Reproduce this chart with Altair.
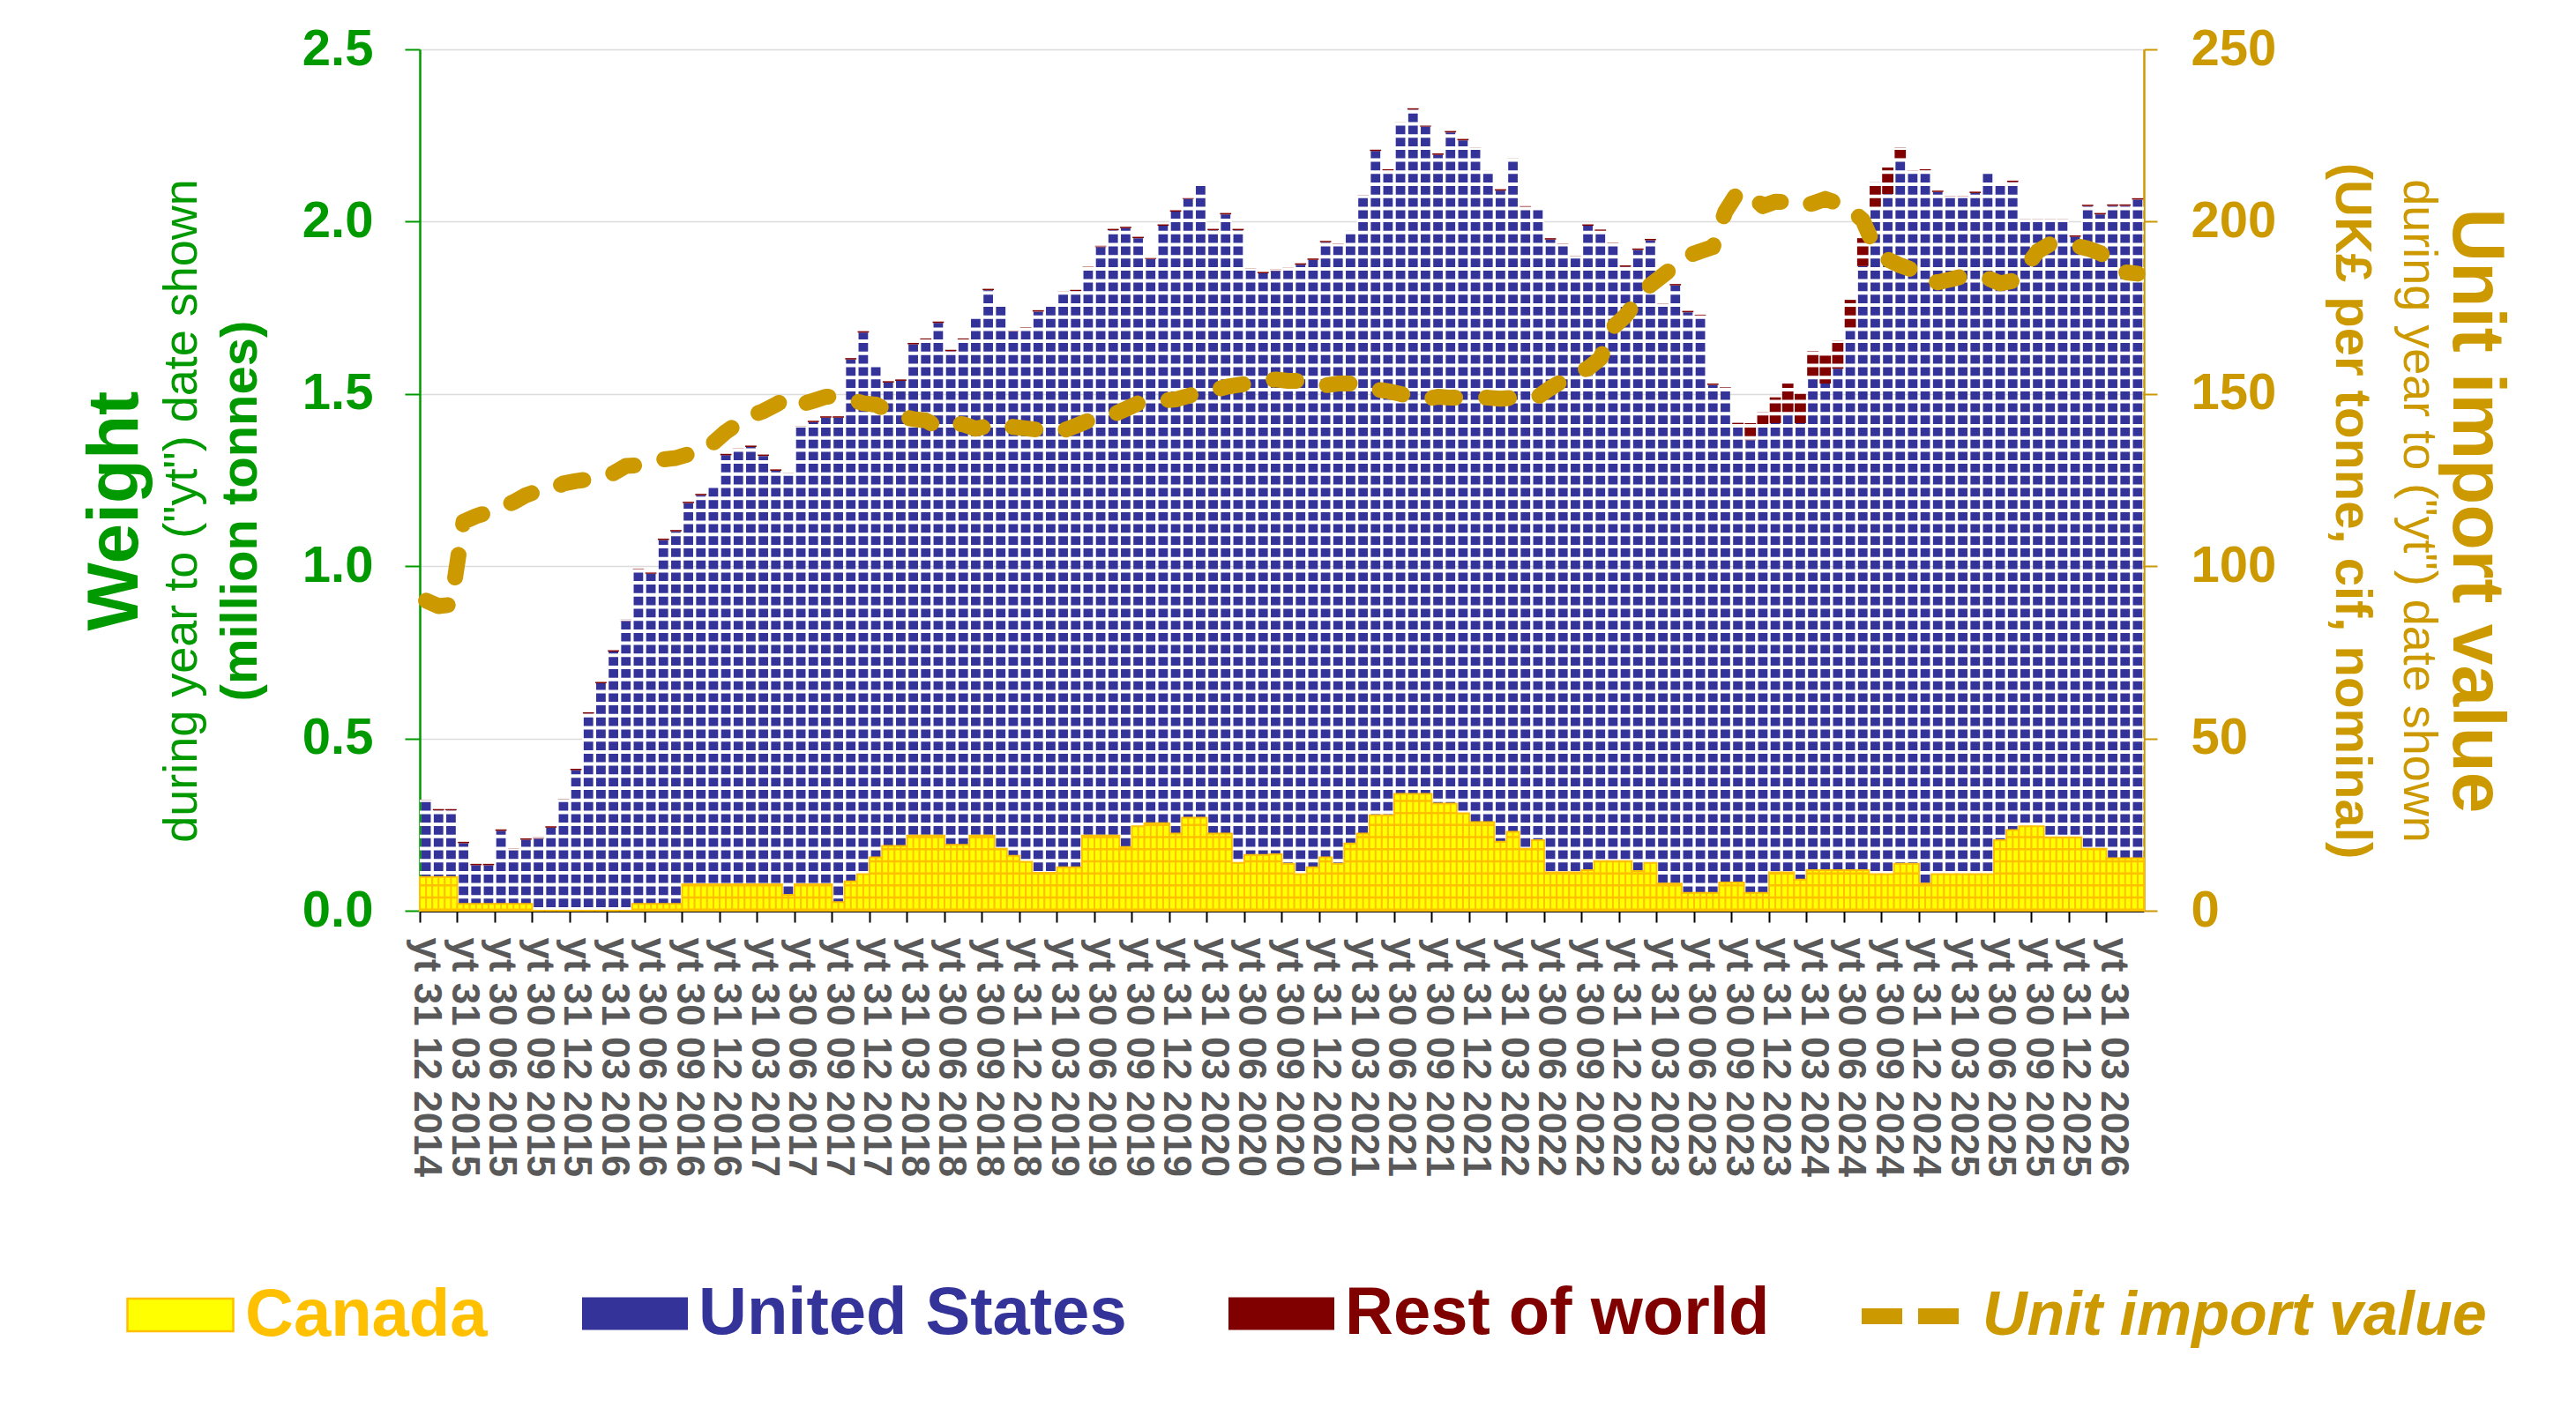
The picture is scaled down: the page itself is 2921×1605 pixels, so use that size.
import altair as alt
import pandas as pd

# ---------------- data ----------------
CANADA = [0.098, 0.098, 0.098, 0.020, 0.020, 0.020, 0.020, 0.020, 0.020, 0.0,
          0.0, 0.0, 0.0, 0.0, 0.0, 0.0, 0.0, 0.020, 0.020, 0.020,
          0.020, 0.077, 0.077, 0.077, 0.077, 0.077, 0.077, 0.077, 0.077, 0.046,
          0.077, 0.077, 0.077, 0.025, 0.085, 0.106, 0.155, 0.188, 0.188, 0.218,
          0.218, 0.218, 0.191, 0.191, 0.218, 0.218, 0.180, 0.159, 0.142, 0.110,
          0.110, 0.126, 0.126, 0.218, 0.218, 0.218, 0.185, 0.245, 0.254, 0.254,
          0.224, 0.270, 0.270, 0.224, 0.224, 0.139, 0.162, 0.162, 0.164, 0.136,
          0.106, 0.126, 0.155, 0.136, 0.195, 0.224, 0.277, 0.277, 0.339, 0.339,
          0.339, 0.311, 0.311, 0.283, 0.257, 0.257, 0.200, 0.229, 0.180, 0.205,
          0.111, 0.111, 0.111, 0.118, 0.144, 0.144, 0.144, 0.115, 0.139, 0.079,
          0.079, 0.052, 0.052, 0.052, 0.082, 0.082, 0.052, 0.052, 0.111, 0.111,
          0.090, 0.118, 0.118, 0.118, 0.118, 0.118, 0.106, 0.106, 0.136, 0.136,
          0.079, 0.106, 0.106, 0.106, 0.106, 0.106, 0.205, 0.234, 0.245, 0.245,
          0.213, 0.213, 0.213, 0.180, 0.180, 0.152, 0.152, 0.152]

UNITED_STATES = [0.220, 0.193, 0.193, 0.176, 0.112, 0.112, 0.212, 0.156, 0.186, 0.209,
                 0.241, 0.320, 0.408, 0.572, 0.660, 0.752, 0.841, 0.969, 0.958, 1.056,
                 1.081, 1.106, 1.129, 1.155, 1.245, 1.261, 1.269, 1.243, 1.200, 1.221,
                 1.326, 1.341, 1.354, 1.406, 1.515, 1.572, 1.425, 1.345, 1.350, 1.426,
                 1.439, 1.488, 1.433, 1.466, 1.505, 1.583, 1.574, 1.523, 1.548, 1.629,
                 1.644, 1.668, 1.672, 1.647, 1.708, 1.757, 1.796, 1.707, 1.637, 1.734,
                 1.805, 1.796, 1.837, 1.751, 1.797, 1.836, 1.698, 1.688, 1.693, 1.726,
                 1.769, 1.763, 1.785, 1.796, 1.774, 1.848, 1.928, 1.871, 1.945, 1.986,
                 1.937, 1.883, 1.948, 1.953, 1.953, 1.886, 1.890, 1.950, 1.861, 1.833,
                 1.837, 1.821, 1.785, 1.870, 1.829, 1.791, 1.725, 1.803, 1.807, 1.679,
                 1.736, 1.685, 1.674, 1.474, 1.433, 1.328, 1.314, 1.358, 1.304, 1.333,
                 1.325, 1.429, 1.412, 1.455, 1.574, 1.753, 1.932, 1.974, 2.047, 2.009,
                 2.069, 1.980, 1.964, 1.964, 1.977, 2.034, 1.902, 1.881, 1.759, 1.759,
                 1.791, 1.791, 1.743, 1.865, 1.841, 1.894, 1.894, 1.912]

REST_OF_WORLD = [0.004] * 105 + [0.006, 0.049, 0.037, 0.075, 0.086, 0.085, 0.077, 0.081,
                                 0.081, 0.081, 0.081, 0.076, 0.077, 0.032] + [0.004] * 19

UNIT_VALUE = [90.0, 88.4, 88.8, 112.9, 114.5, 115.7, 117.0, 118.6, 120.6, 121.9,
              122.2, 124.0, 124.7, 125.2, 125.7, 127.0, 129.1, 129.3, 130.4, 131.0,
              131.4, 132.5, 133.0, 135.8, 139.0, 141.5, 143.6, 145.0, 146.9, 148.9,
              146.9, 148.0, 149.2, 149.2, 148.4, 147.3, 146.9, 145.1, 143.5, 142.7,
              142.3, 140.4, 141.5, 141.2, 139.9, 140.7, 141.5, 140.4, 140.0, 139.6,
              138.9, 139.4, 140.7, 142.2, 143.2, 144.0, 145.6, 147.3, 147.6, 148.1,
              148.4, 149.4, 150.5, 151.0, 152.0, 152.6, 153.1, 153.8, 154.2, 153.8,
              153.8, 153.3, 152.5, 153.0, 153.0, 152.2, 151.3, 150.8, 150.0, 148.9,
              148.4, 149.2, 148.9, 148.9, 148.9, 148.9, 148.6, 148.9, 149.4, 149.2,
              151.7, 153.8, 156.2, 157.4, 160.3, 169.3, 172.6, 177.5, 181.6, 184.4,
              187.3, 190.1, 191.4, 192.6, 202.9, 208.6, 207.8, 204.5, 205.8, 205.7,
              204.5, 205.3, 206.6, 205.3, 203.7, 200.4, 192.2, 189.0, 187.3, 186.0,
              183.2, 182.4, 183.2, 184.1, 184.0, 183.6, 182.1, 182.8, 186.5, 191.4,
              193.5, 193.3, 193.0, 192.2, 190.9, 188.2, 185.3, 184.9]

SERIES = ["Canada", "United States", "Rest of world"]
LINE_NAME = "Unit import value"
WEIGHT_TICKS = [0.0, 0.5, 1.0, 1.5, 2.0, 2.5]
VALUE_TICKS = [0, 50, 100, 150, 200, 250]

N = len(CANADA)
try:
    months = pd.date_range("2014-12-31", periods=N, freq="ME")
except Exception:
    months = pd.date_range("2014-12-31", periods=N, freq="M")
CATS = [f"yt {d.day:02d} {d.month:02d} {d.year}" for d in months]
TICK_CATS = CATS[::3]

df = pd.DataFrame({"cat": CATS, "idx": list(range(N)), "canada": CANADA,
                   "us": UNITED_STATES, "row": REST_OF_WORLD, "unit": UNIT_VALUE})
df["base"] = 0.0
df["us_lo"] = df["canada"]
df["us_hi"] = df["canada"] + df["us"]
df["row_lo"] = df["us_hi"]
df["row_hi"] = df["us_hi"] + df["row"]
df["n_can"] = SERIES[0]
df["n_us"] = SERIES[1]
df["n_row"] = SERIES[2]
df["n_line"] = LINE_NAME

# ---------------- style ----------------
F = "Liberation Sans"
GREEN = "#009900"
GOLD = "#CC9900"
YELLOW = "#FFFF00"
ORANGE = "#FFC000"
BLUE = "#333399"
MAROON = "#800000"
W, H = 1955, 977
BANDPX = W / N
TY = 523
RECT = "M-1,-0.31H1V0.31H-1Z"

xs = alt.Scale(type="band", domain=CATS, paddingInner=0, paddingOuter=0)
x_axis = alt.Axis(values=TICK_CATS, title=None, labelAngle=90, labelFont=F, labelFontSize=44,
                  labelFontWeight="bold", labelColor="#595959", labelPadding=17,
                  labelOverlap=False, labelLimit=600, tickSize=13, tickWidth=2,
                  tickColor="black", domainColor="black", domainWidth=3, bandPosition=0,
                  grid=False)


def X():
    return alt.X("cat:N", sort=CATS, scale=xs, axis=x_axis)


ys = alt.Scale(domain=[0, 2.5], nice=False, zero=True)
y_axis = alt.Axis(values=WEIGHT_TICKS, format=".1f", labelFont=F, labelFontSize=58,
                  labelFontWeight="bold", labelColor=GREEN, labelPadding=36,
                  tickSize=17, tickWidth=2, tickColor=GREEN, domainColor=GREEN,
                  domainWidth=2.5, grid=True, gridColor="#DCDCDC", gridWidth=1.5,
                  title="Weight", titleX=-321, titleY=TY, titleAngle=270,
                  titleAlign="center", titleBaseline="alphabetic", titleFont=F,
                  titleFontSize=82, titleFontWeight="bold", titleColor=GREEN)


def Yw(field):
    return alt.Y(f"{field}:Q", scale=ys, axis=y_axis)


def legend(x, y, color, size=14400, fs=76, **kw):
    return alt.Legend(orient="none", legendX=x, legendY=y, title=None, padding=0,
                      symbolSize=size, labelFont=F, labelFontSize=fs,
                      labelFontWeight="bold", labelColor=color, labelLimit=1200, **kw)


base = alt.Chart(df)

us_bars = base.mark_bar(width={"band": 0.76}).encode(
    x=X(), y=Yw("us_lo"), y2="us_hi:Q",
    color=alt.Color("n_us:N", scale=alt.Scale(domain=[SERIES[1]], range=[BLUE]),
                    legend=legend(184, 1374, BLUE, symbolType=RECT, labelOffset=12,
                                  symbolStrokeWidth=0)))

row_bars = base.mark_bar(width={"band": 0.9}).encode(
    x=X(), y=Yw("row_lo"), y2="row_hi:Q",
    color=alt.Color("n_row:N", scale=alt.Scale(domain=[SERIES[2]], range=[MAROON]),
                    legend=legend(917, 1374, MAROON, symbolType=RECT, labelOffset=12,
                                  symbolStrokeWidth=0)))

white_rows = base.mark_rule(color="white", strokeWidth=BANDPX, strokeDash=[4, 9.7],
                            strokeCap="butt").encode(x=X(), y=Yw("base"), y2="row_hi:Q")

can_bars = base.mark_bar(width={"band": 1}, stroke=ORANGE, strokeWidth=2).encode(
    x=X(), y=Yw("base"), y2="canada:Q",
    color=alt.Color("n_can:N", scale=alt.Scale(domain=[SERIES[0]], range=[YELLOW]),
                    legend=legend(-333, 1374, ORANGE, symbolType=RECT, labelOffset=12,
                                  symbolStrokeColor=ORANGE, symbolStrokeWidth=2.5)))

can_rows = base.mark_rule(color=ORANGE, strokeWidth=BANDPX, strokeDash=[2.5, 11.2],
                          strokeCap="butt").encode(x=X(), y=Yw("base"), y2="canada:Q")
can_cols = base.mark_rule(color=ORANGE, strokeWidth=2).encode(
    x=X(), y=Yw("base"), y2="canada:Q")

bars = alt.layer(us_bars, row_bars, white_rows, can_bars, can_rows, can_cols).resolve_scale(
    color="independent")

right_axis = alt.Axis(orient="right", values=VALUE_TICKS, format="d", labelFont=F,
                      labelFontSize=58, labelFontWeight="bold", labelColor=GOLD,
                      labelPadding=38, tickSize=15, tickWidth=2, tickColor=GOLD,
                      domainColor=GOLD, domainWidth=2.5, grid=False,
                      title=LINE_NAME, titleX=350, titleY=TY, titleAngle=90,
                      titleAlign="center", titleBaseline="alphabetic", titleFont=F,
                      titleFontSize=84, titleFontWeight="bold", titleColor=GOLD)
vs = alt.Scale(domain=[0, 250], nice=False, zero=True)

line = base.mark_line(strokeWidth=18, strokeDash=[26, 35], strokeCap="round",
                      strokeJoin="round").encode(
    x=X(), y=alt.Y("unit:Q", scale=vs, axis=right_axis), order=alt.Order("idx:Q"),
    color=alt.Color("n_line:N", scale=alt.Scale(domain=[LINE_NAME], range=[GOLD]),
                    legend=legend(1626, 1373, GOLD, size=12100, fs=70, symbolType="stroke",
                                  symbolStrokeWidth=18, symbolDash=[46, 18],
                                  labelOffset=18, labelFontStyle="italic")))


def title_layer(orient, text, tx, size, weight, color, angle):
    return base.mark_point(opacity=0, size=1).encode(
        x=X(),
        y=alt.Y("unit:Q", scale=vs,
                axis=alt.Axis(orient=orient, title=text, titleX=tx, titleY=TY,
                              titleAngle=angle, titleAlign="center",
                              titleBaseline="alphabetic", titleFont=F,
                              titleFontSize=size, titleFontWeight=weight,
                              titleColor=color, labels=False, ticks=False,
                              domain=False, grid=False)))


SUB = 'during year to ("yt") date shown'
t_l2 = title_layer("left", SUB, -254, 54, "normal", GREEN, 270)
t_l3 = title_layer("left", "(million tonnes)", -186, 58, "bold", GREEN, 270)
t_r2 = title_layer("right", SUB, 294, 54, "normal", GOLD, 90)
t_r3 = title_layer("right", "(UK£ per tonne, cif, nominal)", 217, 58, "bold", GOLD, 90)

chart = alt.layer(bars, line, t_l2, t_l3, t_r2, t_r3).resolve_scale(
    y="independent", color="independent"
).properties(
    width=W, height=H,
    autosize=alt.AutoSizeParams(type="none"),
    padding={"left": 468, "top": 48, "right": 482, "bottom": 560},
    background="white",
).configure_view(stroke=None).configure(font=F)

chart.save("out.html", embed_options={"renderer": "svg", "actions": False})
